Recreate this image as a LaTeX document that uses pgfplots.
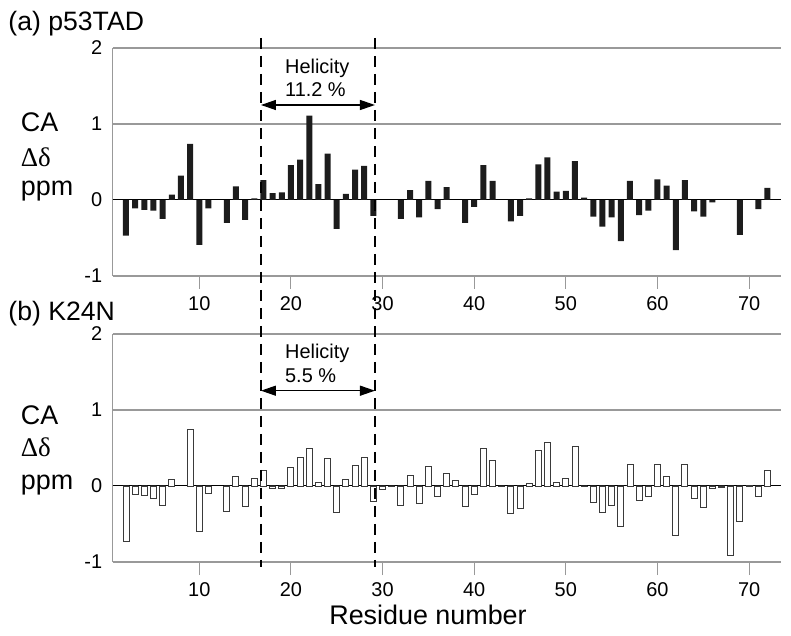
\documentclass[border=0pt]{standalone}
\usepackage{fontspec}
\setmainfont{Liberation Sans}
\newfontfamily\seriffont{Liberation Serif}
\usepackage{pgfplots}
\pgfplotsset{compat=1.18}
\usetikzlibrary{arrows.meta}

\definecolor{gridgray}{HTML}{999999}
\definecolor{barblack}{HTML}{1C1C1C}
\definecolor{baredge}{HTML}{3A3A3A}

\pgfplotsset{
  panel/.style={
    scale only axis, width=668bp, height=228bp,
    anchor=south west,
    xmin=0.55, xmax=73.45, ymin=-1, ymax=2,
    axis x line*=bottom, axis y line*=left,
    axis line style={draw=gridgray, line width=1.1bp},
    xtick={10,20,30,40,50,60,70}, xticklabels={10,20,30,40,50,60,70},
    ytick={-1,1,2}, yticklabels={-1,1,2},
    extra y ticks={0}, extra y tick labels={0},
    extra y tick style={major grid style={black, line width=1bp}},
    ymajorgrids, major grid style={gridgray, line width=1.1bp},
    tick align=inside, major tick length=13bp,
    xtick style={draw=gridgray, line width=1.1bp},
    ytick style={draw=none},
    tick label style={font=\fontsize{20}{24}\selectfont},
    xticklabel style={yshift=-4bp},
    yticklabel style={xshift=-7bp},
    clip=false,
    ybar, bar width=6bp,
  },
}
\tikzset{
  helicity/.style={anchor=base west, inner sep=0pt, font=\fontsize{20}{24}\selectfont},
  ylab/.style={anchor=base west, inner sep=0pt, font=\fontsize{27}{30}\selectfont},
  ptitle/.style={anchor=base west, inner sep=0pt, font=\fontsize{26.7}{30}\selectfont},
  helarrow/.style={{Triangle[length=15bp,width=10bp]}-{Triangle[length=15bp,width=10bp]}, line width=1.3bp},
  window/.style={black, line width=1.4bp, dash pattern=on 11bp off 7bp},
}

\begin{document}
\begin{tikzpicture}
\useasboundingbox (0,0) rectangle (791bp,636bp);

% ---------------- (a) p53TAD ----------------
\begin{axis}[panel, at={(112.7bp,360bp)}]
\addplot[fill=barblack, draw=none] coordinates {
(2,-0.47) (3,-0.11) (4,-0.13) (5,-0.14) (6,-0.25) (7,0.07) (8,0.32) (9,0.74)
(10,-0.59) (11,-0.11) (13,-0.30) (14,0.18) (15,-0.26) (16,0.02) (17,0.26)
(18,0.09) (19,0.10) (20,0.46) (21,0.53) (22,1.11) (23,0.21) (24,0.61)
(25,-0.38) (26,0.08) (27,0.40) (28,0.45) (29,-0.21) (32,-0.25) (33,0.13)
(34,-0.23) (35,0.25) (36,-0.12) (37,0.17) (39,-0.30) (40,-0.09) (41,0.46)
(42,0.25) (44,-0.28) (45,-0.21) (46,0.02) (47,0.47) (48,0.56) (49,0.11)
(50,0.12) (51,0.51) (52,0.03) (53,-0.22) (54,-0.35) (55,-0.23) (56,-0.54)
(57,0.25) (58,-0.20) (59,-0.14) (60,0.27) (61,0.19) (62,-0.66) (63,0.26)
(64,-0.15) (65,-0.22) (66,-0.03) (69,-0.46) (71,-0.12) (72,0.16)
};
\draw[helarrow] (axis cs:16.73,1.25) -- (axis cs:29.17,1.25);
\node[helicity] at (axis cs:19.35,1.667) {Helicity};
\node[helicity] at (axis cs:19.35,1.368) {11.2 \%};
\node[ptitle] at (axis description cs:-0.1563,1.0746) {(a) p53TAD};
\node[ylab] at (axis description cs:-0.1377,0.632) {CA};
\node[ylab] at (axis description cs:-0.1377,0.482) {\seriffont Δδ};
\node[ylab] at (axis description cs:-0.1377,0.352) {ppm};
\end{axis}

% ---------------- (b) K24N ----------------
\begin{axis}[panel, at={(112.7bp,74bp)}]
\addplot[fill=white, draw=baredge, line width=0.9bp] coordinates {
(2,-0.73) (3,-0.11) (4,-0.13) (5,-0.16) (6,-0.26) (7,0.09) (9,0.74)
(10,-0.60) (11,-0.10) (13,-0.34) (14,0.13) (15,-0.27) (16,0.10) (17,0.20)
(18,-0.03) (19,-0.03) (20,0.24) (21,0.38) (22,0.49) (23,0.05) (24,0.36)
(25,-0.35) (26,0.08) (27,0.27) (28,0.38) (29,-0.20) (30,-0.05) (31,-0.01)
(32,-0.26) (33,0.14) (34,-0.23) (35,0.26) (36,-0.14) (37,0.17) (38,0.07)
(39,-0.27) (40,-0.11) (41,0.49) (42,0.34) (43,-0.01) (44,-0.36) (45,-0.30)
(46,0.03) (47,0.47) (48,0.57) (49,0.05) (50,0.10) (51,0.52) (52,-0.01)
(53,-0.22) (54,-0.35) (55,-0.25) (56,-0.53) (57,0.28) (58,-0.19) (59,-0.14)
(60,0.28) (61,0.13) (62,-0.65) (63,0.28) (64,-0.17) (65,-0.28) (66,-0.03)
(67,-0.02) (68,-0.91) (69,-0.46) (70,0.01) (71,-0.14) (72,0.20)
};
\draw[helarrow] (axis cs:16.73,1.254) -- (axis cs:29.17,1.254);
\node[helicity] at (axis cs:19.35,1.680) {Helicity};
\node[helicity] at (axis cs:19.35,1.359) {5.5 \%};
\node[ptitle] at (axis description cs:-0.1563,1.0583) {(b) K24N};
\node[ylab] at (axis description cs:-0.1377,0.605) {CA};
\node[ylab] at (axis description cs:-0.1377,0.461) {\seriffont Δδ};
\node[ylab] at (axis description cs:-0.1377,0.320) {ppm};
\node[ylab] at (axis description cs:0.324,-0.276) {Residue number};
% dashed helicity window lines spanning both panels
\draw[window] (axis cs:16.73,5.895) -- (axis cs:16.73,-1.066);
\draw[window] (axis cs:29.17,5.895) -- (axis cs:29.17,-1.066);
\end{axis}
\end{tikzpicture}
\end{document}
